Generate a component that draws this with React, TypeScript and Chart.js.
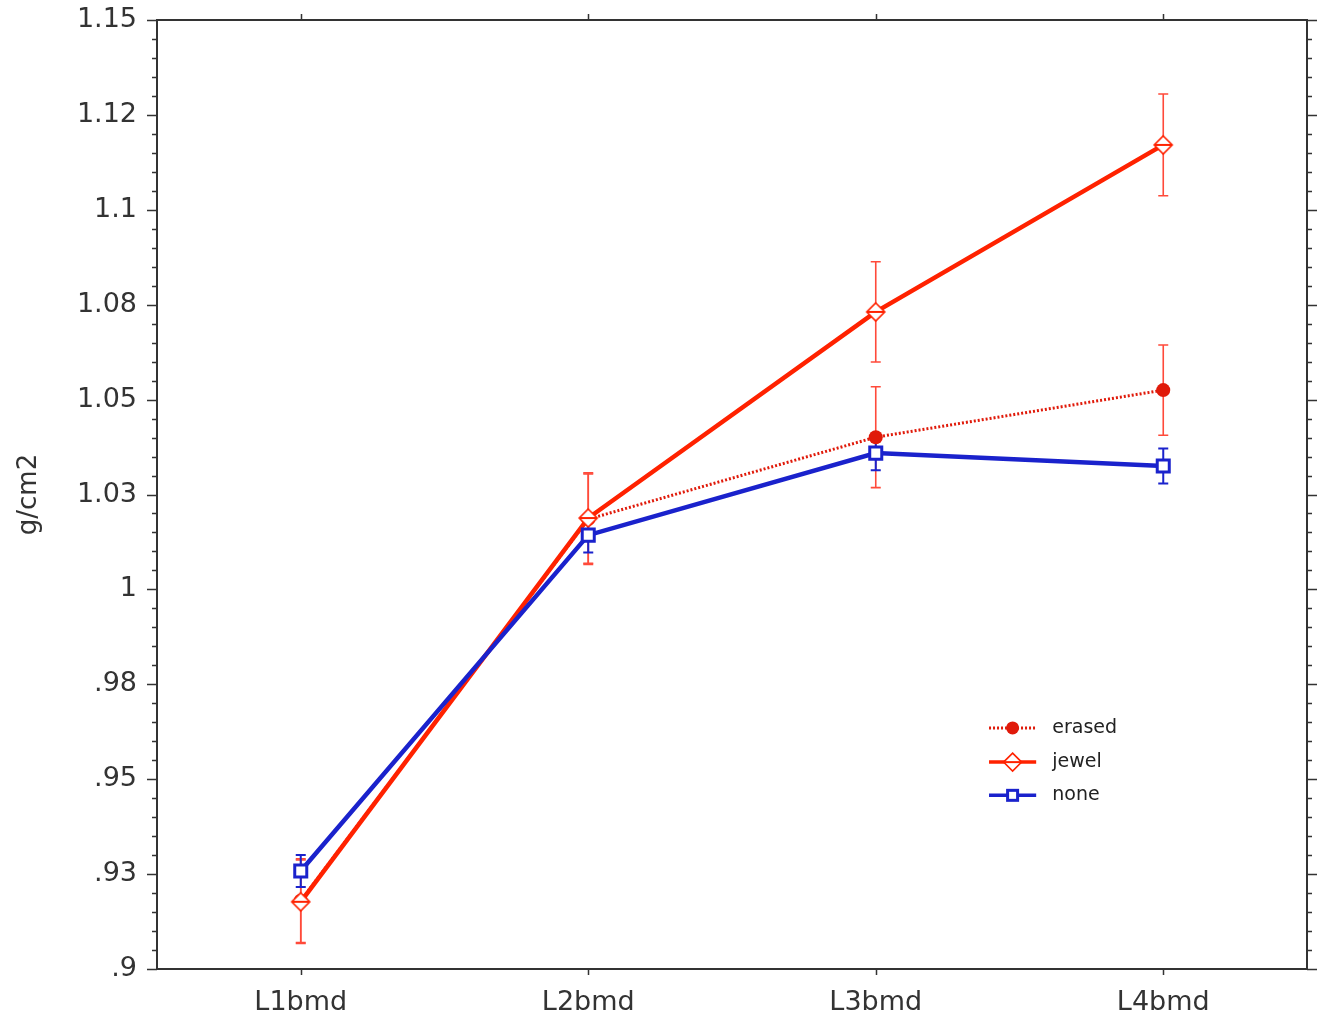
import React, { useEffect, useRef } from 'react';
import { Chart, registerables } from 'chart.js';

Chart.register(...registerables);

const categories = ['L1bmd', 'L2bmd', 'L3bmd', 'L4bmd'];
const erasedMean = [0.918, 1.0185, 1.0401, 1.0525];
const erasedErr = [0.011, 0.0119, 0.0133, 0.0119];
const jewelMean = [0.9177, 1.0188, 1.0731, 1.1171];
const jewelErr = [0.011, 0.0119, 0.0132, 0.0134];
const noneMean = [0.9258, 1.0143, 1.0359, 1.0325];
const noneErr = [0.0042, 0.0046, 0.0045, 0.0046];
const yTickValues = [0.9, 0.925, 0.95, 0.975, 1.0, 1.025, 1.05, 1.075, 1.1, 1.125, 1.15];
const yTickLabels = ['.9', '.93', '.95', '.98', '1', '1.03', '1.05', '1.08', '1.1', '1.12', '1.15'];
const yMin = 0.9;
const yMax = 1.15;
const yMinorStep = 0.005;
const seriesNames = ['erased', 'jewel', 'none'];

const RED = '#ff2200';
const RED_DOT = '#e01a0a';
const RED_ERR = '#ff4a3a';
const BLUE = '#1a22cc';
const AXIS = '#333333';
const FONT = '"DejaVu Sans", sans-serif';

function makeDiamond(): HTMLCanvasElement {
  const c = document.createElement('canvas');
  c.width = 22;
  c.height = 22;
  const g = c.getContext('2d')!;
  g.beginPath();
  g.moveTo(11, 2);
  g.lineTo(20, 11);
  g.lineTo(11, 20);
  g.lineTo(2, 11);
  g.closePath();
  g.fillStyle = '#ffffff';
  g.fill();
  g.strokeStyle = RED;
  g.lineWidth = 1.6;
  g.stroke();
  g.beginPath();
  g.moveTo(2, 11);
  g.lineTo(20, 11);
  g.lineWidth = 2;
  g.stroke();
  return c;
}

const errorBarPlugin = {
  id: 'errorBars',
  beforeDatasetsDraw(chart: any) {
    const ctx = chart.ctx;
    const y = chart.scales.y;
    const errs = [erasedErr, jewelErr, noneErr];
    const means = [erasedMean, jewelMean, noneMean];
    const colors = [RED_ERR, RED_ERR, BLUE];
    ctx.save();
    for (let d = 0; d < 3; d++) {
      const meta = chart.getDatasetMeta(d);
      ctx.strokeStyle = colors[d];
      ctx.lineWidth = d === 2 ? 2 : 1.6;
      meta.data.forEach((pt: any, j: number) => {
        const top = y.getPixelForValue(means[d][j] + errs[d][j]);
        const bot = y.getPixelForValue(means[d][j] - errs[d][j]);
        const x = pt.x;
        const cap = 5;
        ctx.beginPath();
        ctx.moveTo(x, top);
        ctx.lineTo(x, bot);
        ctx.moveTo(x - cap, top);
        ctx.lineTo(x + cap, top);
        ctx.moveTo(x - cap, bot);
        ctx.lineTo(x + cap, bot);
        ctx.stroke();
      });
    }
    ctx.restore();
  },
};

const framePlugin = {
  id: 'frame',
  afterDraw(chart: any) {
    const ctx = chart.ctx;
    const { left, right, top, bottom } = chart.chartArea;
    const y = chart.scales.y;
    const x = chart.scales.x;
    ctx.save();
    ctx.strokeStyle = AXIS;
    ctx.lineWidth = 2;
    ctx.strokeRect(left, top, right - left, bottom - top);
    ctx.lineWidth = 1.5;
    ctx.beginPath();
    const n = Math.round((yMax - yMin) / yMinorStep);
    for (let i = 0; i <= n; i++) {
      const py = Math.round(y.getPixelForValue(yMin + i * yMinorStep)) + 0.5;
      const len = i % 5 === 0 ? 10 : 5;
      ctx.moveTo(left - len, py);
      ctx.lineTo(left, py);
      ctx.moveTo(right, py);
      ctx.lineTo(right + len, py);
    }
    categories.forEach((_, i) => {
      const px = Math.round(x.getPixelForValue(i)) + 0.5;
      ctx.moveTo(px, top);
      ctx.lineTo(px, top - 6);
      ctx.moveTo(px, bottom);
      ctx.lineTo(px, bottom + 6);
    });
    ctx.stroke();
    ctx.restore();
  },
};

const legendPlugin = {
  id: 'customLegend',
  afterDraw(chart: any) {
    const ctx = chart.ctx;
    const { left, right, top, bottom } = chart.chartArea;
    const w = right - left;
    const h = bottom - top;
    const x0 = left + w * 0.7235;
    const x1 = left + w * 0.7645;
    const xt = left + w * 0.7785;
    const rows = [top + h * 0.746, top + h * 0.782, top + h * 0.817];
    const xm = (x0 + x1) / 2;
    ctx.save();
    ctx.font = '19px ' + FONT;
    ctx.textBaseline = 'middle';
    ctx.fillStyle = '#222222';
    rows.forEach((ry, i) => {
      ctx.beginPath();
      ctx.moveTo(x0, ry);
      ctx.lineTo(x1, ry);
      if (i === 0) {
        ctx.setLineDash([2, 2]);
        ctx.strokeStyle = RED_DOT;
        ctx.lineWidth = 3;
      } else if (i === 1) {
        ctx.setLineDash([]);
        ctx.strokeStyle = RED;
        ctx.lineWidth = 3.5;
      } else {
        ctx.setLineDash([]);
        ctx.strokeStyle = BLUE;
        ctx.lineWidth = 3.5;
      }
      ctx.stroke();
      ctx.setLineDash([]);
      if (i === 0) {
        ctx.beginPath();
        ctx.arc(xm, ry, 6.5, 0, Math.PI * 2);
        ctx.fillStyle = RED_DOT;
        ctx.fill();
      } else if (i === 1) {
        ctx.beginPath();
        ctx.moveTo(xm, ry - 9);
        ctx.lineTo(xm + 9, ry);
        ctx.lineTo(xm, ry + 9);
        ctx.lineTo(xm - 9, ry);
        ctx.closePath();
        ctx.fillStyle = '#ffffff';
        ctx.fill();
        ctx.lineWidth = 1.6;
        ctx.stroke();
        ctx.beginPath();
        ctx.moveTo(xm - 9, ry);
        ctx.lineTo(xm + 9, ry);
        ctx.lineWidth = 2;
        ctx.stroke();
      } else {
        ctx.fillStyle = '#ffffff';
        ctx.fillRect(xm - 5, ry - 5, 10, 10);
        ctx.lineWidth = 3;
        ctx.strokeRect(xm - 5, ry - 5, 10, 10);
      }
      ctx.fillStyle = '#222222';
      ctx.fillText(seriesNames[i], xt, ry);
    });
    ctx.restore();
  },
};

export default function App() {
  const ref = useRef<HTMLCanvasElement | null>(null);

  useEffect(() => {
    if (!ref.current) return;
    const diamond = makeDiamond();
    const chart = new Chart(ref.current, {
      type: 'line',
      data: {
        labels: categories,
        datasets: [
          {
            label: seriesNames[0],
            data: erasedMean,
            borderColor: RED_DOT,
            borderWidth: 3,
            borderDash: [2, 2],
            pointStyle: 'circle',
            pointRadius: 7,
            pointBackgroundColor: RED_DOT,
            pointBorderColor: RED_DOT,
            pointBorderWidth: 0,
            tension: 0,
            order: 2,
          },
          {
            label: seriesNames[1],
            data: jewelMean,
            borderColor: RED,
            borderWidth: 4.5,
            pointStyle: diamond as any,
            pointRadius: 10,
            tension: 0,
            order: 1,
          },
          {
            label: seriesNames[2],
            data: noneMean,
            borderColor: BLUE,
            borderWidth: 4.5,
            pointStyle: 'rect',
            pointRadius: 8.5,
            pointBackgroundColor: '#ffffff',
            pointBorderColor: BLUE,
            pointBorderWidth: 3,
            tension: 0,
            order: 0,
          },
        ],
      },
      options: {
        responsive: false,
        animation: false,
        layout: { padding: { top: 20, right: 18, left: 0, bottom: 0 } },
        plugins: {
          legend: { display: false },
          tooltip: { enabled: false },
        },
        scales: {
          x: {
            type: 'category',
            offset: true,
            grid: { display: false, drawTicks: false },
            border: { display: false },
            ticks: {
              color: '#333333',
              font: { family: FONT, size: 27 },
              padding: 18,
              maxRotation: 0,
            },
            afterFit(scale: any) {
              scale.height = 52;
              scale.paddingLeft = 0;
              scale.paddingRight = 0;
            },
          },
          y: {
            type: 'linear',
            min: yMin,
            max: yMax,
            grid: { display: false, drawTicks: false },
            border: { display: false },
            afterBuildTicks(scale: any) {
              scale.ticks = yTickValues.map((v) => ({ value: v }));
            },
            ticks: {
              color: '#333333',
              font: { family: FONT, size: 27 },
              padding: 20,
              callback: (_v: any, i: number) => yTickLabels[i],
            },
            title: {
              display: true,
              text: 'g/cm2',
              color: '#333333',
              font: { family: FONT, size: 26 },
              padding: { top: 14, bottom: 0 },
            },
            afterFit(scale: any) {
              scale.width = 157;
              scale.paddingTop = 0;
              scale.paddingBottom = 0;
            },
          },
        },
      },
      plugins: [errorBarPlugin, framePlugin, legendPlugin],
    });
    return () => chart.destroy();
  }, []);

  return (
    <div style={{ position: 'absolute', left: 0, top: 0, width: 1325, height: 1021, background: '#ffffff' }}>
      <canvas ref={ref} width={1325} height={1021} style={{ display: 'block' }} />
    </div>
  );
}
